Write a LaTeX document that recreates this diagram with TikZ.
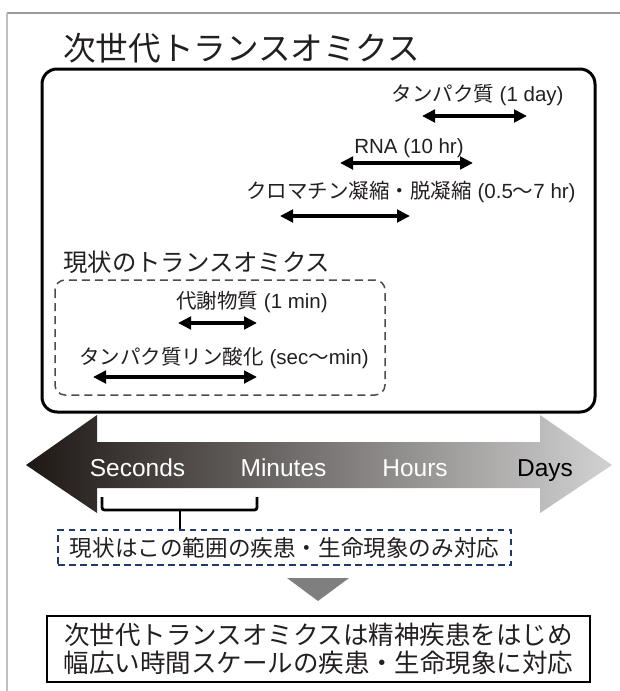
\documentclass[tikz,border=0pt]{standalone}
\usepackage{fontspec}
\setmainfont{Liberation Sans}
\newfontfamily\jp{Noto Sans CJK JP}
\usetikzlibrary{arrows.meta}
\definecolor{txt}{HTML}{231F20}
\definecolor{navy}{HTML}{1F3A6B}
\definecolor{darkend}{HTML}{1E1714}
\definecolor{lightend}{HTML}{D2D2D2}
\definecolor{tri}{HTML}{7F7F7F}
\begin{document}
\begin{tikzpicture}[x=1pt,y=-1pt,
  lbl/.style={inner sep=0pt, text=txt, font=\fontsize{20.5}{23}\selectfont},
  head/.style={inner sep=0pt, text=txt, anchor=west},
  darr/.style={line width=3.3pt, draw=black, {Triangle[length=13pt,width=12.5pt]}-{Triangle[length=13pt,width=12.5pt]}},
  tscale/.style={inner sep=0pt, anchor=base, font=\fontsize{24.5}{27}\selectfont},
]
\useasboundingbox (0,0) rectangle (620,691);
% open frame
\draw[color=black!40, line width=1.2pt] (7,13) -- (620,13);
\draw[color=black!25, line width=2.2pt] (7,13) -- (7,691);

% title
\node[head, font=\jp\fontsize{32.6}{36}\selectfont] (title) at (63,48) {次世代トランスオミクス};

% big box
\draw[line width=3pt, rounded corners=15pt] (42,69) rectangle (595,412);

% next-gen entries
\node[lbl] (prot) at (477.5,95) {{\jp タンパク質} (1 day)};
\coordinate (protL) at (422,116); \coordinate (protR) at (527,116);
\draw[darr] (protL) -- (protR);

\node[lbl] (rna) at (409,148) {RNA (10 hr)};
\coordinate (rnaL) at (340,163); \coordinate (rnaR) at (473,163);
\draw[darr] (rnaL) -- (rnaR);

\node[lbl] (chrom) at (411,192) {{\jp クロマチン凝縮・脱凝縮} (0.5{\jp 〜}7 hr)};
\coordinate (chromL) at (280,216); \coordinate (chromR) at (410,216);
\draw[darr] (chromL) -- (chromR);

% current trans-omics
\node[head, font=\jp\fontsize{24.4}{27}\selectfont] (cur) at (63,262) {現状のトランスオミクス};
\draw[color=black!70, line width=1.5pt, dash pattern=on 8pt off 5pt, rounded corners=10pt] (55,280) rectangle (385,395);

\node[lbl] (metab) at (252,302) {{\jp 代謝物質} (1 min)};
\coordinate (metabL) at (178,323); \coordinate (metabR) at (257,323);
\draw[darr] (metabL) -- (metabR);

\node[lbl] (phos) at (224,358) {{\jp タンパク質リン酸化} (sec{\jp 〜}min)};
\coordinate (phosL) at (93,377); \coordinate (phosR) at (257,377);
\draw[darr] (phosL) -- (phosR);

% time scale arrow
\shade[left color=darkend, right color=lightend]
  (26,465) -- (97,415) -- (97,442) -- (540,442) -- (540,415) -- (612,465)
  -- (540,513) -- (540,488) -- (97,488) -- (97,513) -- cycle;
\node[tscale, text=white] (sec) at (137.5,476) {Seconds};
\node[tscale, text=white] (min) at (283.5,476) {Minutes};
\node[tscale, text=white] (hrs) at (415,476) {Hours};
\node[tscale, text=black] (day) at (545,476) {Days};

% current range box
\node[draw=navy, line width=1.5pt, dash pattern=on 6.5pt off 4.5pt, inner sep=0pt,
      minimum width=453pt, minimum height=35pt, text=txt,
      font=\jp\fontsize{22.6}{25}\selectfont] (range) at (284.5,547.5) {現状はこの範囲の疾患・生命現象のみ対応};

% bracket
\coordinate (bL) at (102,497); \coordinate (bR) at (257,497);
\coordinate (bM) at (180,510);
\draw[line width=2.8pt, rounded corners=2.5pt] (bL) -- (102,510) -- (257,510) -- (bR);
\draw[line width=2.8pt] (bM) -- (bM |- range.north);

% down triangle
\coordinate (t1) at (287,578); \coordinate (t2) at (349,578); \coordinate (t3) at (318,601);
\fill[tri] (t1) -- (t2) -- (t3) -- cycle;

% conclusion box
\node[draw, line width=2pt, minimum width=543pt, minimum height=66pt, inner sep=0pt,
      align=center, text=txt, font=\jp\fontsize{25.5}{27.5}\selectfont] (concl) at (318.5,649)
  {次世代トランスオミクスは精神疾患をはじめ\\幅広い時間スケールの疾患・生命現象に対応};
\end{tikzpicture}
\end{document}
